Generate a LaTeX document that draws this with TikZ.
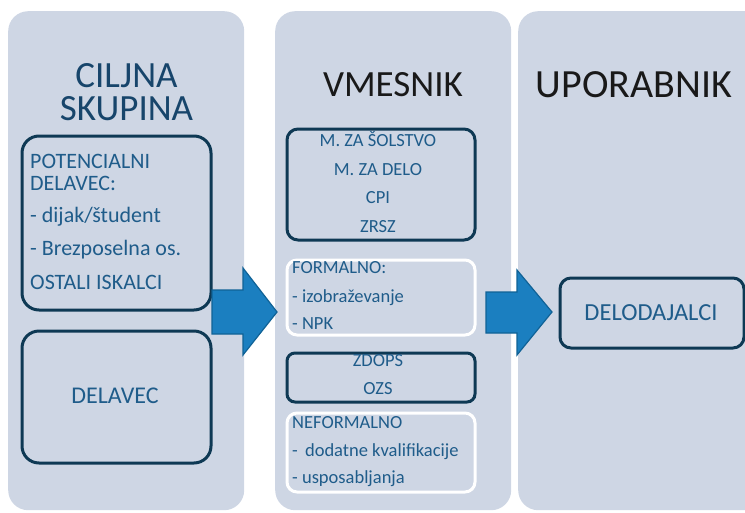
\documentclass[tikz,border=0pt]{standalone}
\usepackage{fontspec}
\setmainfont{Carlito}
\definecolor{panelc}{RGB}{206,214,228}
\definecolor{darkc}{RGB}{14,57,84}
\definecolor{txtc}{RGB}{31,92,138}
\definecolor{titlec}{RGB}{23,69,107}
\definecolor{arrowc}{RGB}{27,127,192}
\definecolor{arrowedge}{RGB}{16,98,150}
\begin{document}
\begin{tikzpicture}[x=1pt,y=-1pt,
  panel/.style={fill=panelc, rounded corners=20pt, inner sep=0pt, anchor=north west},
  darkbox/.style={draw=darkc, line width=3pt, inner sep=0pt, anchor=north west},
  whitebox/.style={draw=white, line width=3pt, rounded corners=10pt, inner sep=0pt, anchor=north west},
  titletxt/.style={font=\fontsize{37}{40}\selectfont, anchor=base, inner sep=0pt},
  ltxt/.style={font=\fontsize{22}{26}\selectfont, text=txtc, anchor=base west, inner sep=0pt},
  mtxt/.style={font=\fontsize{18.5}{22}\selectfont, text=txtc, anchor=base, inner sep=0pt},
  mltxt/.style={font=\fontsize{18.5}{22}\selectfont, text=txtc, anchor=base west, inner sep=0pt},
  barrow/.style={fill=arrowc, draw=arrowedge, line width=1.2pt, line join=miter}
]
\useasboundingbox (0,0) rectangle (745,512);
\clip (0,0) rectangle (745,512);

% panels
\node (p1) [panel, minimum width=236pt, minimum height=499pt] at (8,11) {};
\node (p2) [panel, minimum width=236pt, minimum height=499pt] at (275,11) {};
\node (p3) [panel, minimum width=260pt, minimum height=499pt] at (518,11) {};

% titles
\node (t1a) [titletxt, text=titlec, text height=26pt, text depth=0pt] at (126.5,87) {CILJNA};
\node (t1b) [titletxt, text=titlec, text height=26pt, text depth=0pt] at (126.5,120) {SKUPINA};
\node (t2) [titletxt, text=black!90] at (393,96) {VMESNIK};
\node (t3) [titletxt, text=black!90, font=\fontsize{40}{44}\selectfont] at (634,97) {UPORABNIK};

% left boxes
\node (bpot) [darkbox, rounded corners=17pt, minimum width=189pt, minimum height=174pt] at (20.5,134.5) {};
\node (l1) [ltxt] at (30,168) {POTENCIALNI};
\node (l2) [ltxt] at (30,190) {DELAVEC:};
\node (l3) [ltxt] at (30,222) {- dijak/študent};
\node (l4) [ltxt] at (30,255) {- Brezposelna os.};
\node (l5) [ltxt] at (30,289) {OSTALI ISKALCI};

\node (bdel) [darkbox, rounded corners=17pt, minimum width=189pt, minimum height=132pt] at (20.5,329.5) {};
\node (dtxt) [font=\fontsize{24}{28}\selectfont, text=txtc, anchor=base, inner sep=0pt] at (115,403) {DELAVEC};

% middle boxes
\node (bm1) [darkbox, rounded corners=11pt, minimum width=188pt, minimum height=111pt] at (285.5,127.5) {};
\node (m1) [mtxt] at (378,146) {M. ZA ŠOLSTVO};
\node (m2) [mtxt] at (378,175) {M. ZA DELO};
\node (m3) [mtxt] at (378,203) {CPI};
\node (m4) [mtxt] at (378,232) {ZRSZ};

\node (bm2) [whitebox, minimum width=188pt, minimum height=75pt] at (285.5,258.5) {};
\node (f1) [mltxt] at (292,273) {FORMALNO:};
\node (f2) [mltxt] at (292,302) {- izobraževanje};
\node (f3) [mltxt] at (292,329) {- NPK};

\node (bm3) [darkbox, rounded corners=8pt, minimum width=188pt, minimum height=49pt] at (285.5,351.5) {};
\node (z1) [mtxt] at (378,366) {ZDOPS};
\node (z2) [mtxt] at (378,394) {OZS};

\node (bm4) [whitebox, minimum width=188pt, minimum height=79pt] at (285.5,411.5) {};
\node (n1) [mltxt] at (292,428) {NEFORMALNO};
\node (n2) [mltxt] at (292,456) {- \hspace{3pt}dodatne kvalifikacije};
\node (n3) [mltxt] at (292,483) {- usposabljanja};

% right box
\node (bdod) [darkbox, rounded corners=11pt, minimum width=184pt, minimum height=70pt] at (558.5,276.5) {};
\node (dod) [font=\fontsize{24.5}{28}\selectfont, text=txtc, anchor=base, inner sep=0pt] at (651,320) {DELODAJALCI};

% block arrows
\draw[barrow] (212,290) -- (243,290) -- (243,268) -- (277,312) -- (243,355) -- (243,334) -- (212,334) -- cycle;
\draw[barrow] (486,292) -- (517,292) -- (517,270) -- (552,312) -- (517,355) -- (517,333) -- (486,333) -- cycle;
\end{tikzpicture}
\end{document}
